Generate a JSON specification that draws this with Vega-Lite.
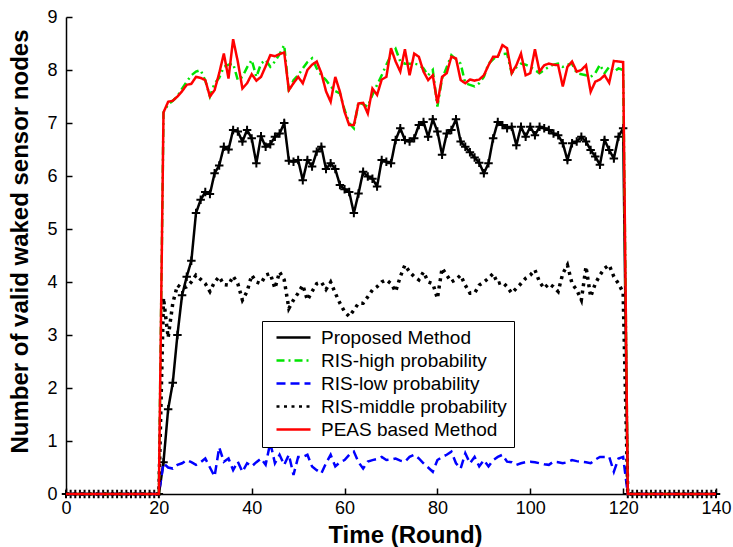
{
"$schema": "https://vega.github.io/schema/vega-lite/v6.json",
"width": 650, "height": 477,
"autosize": {"type": "none"},
"padding": {"left": 66, "top": 17, "right": 17, "bottom": 53},
"background": "white",
"config": {
  "view": {"stroke": null},
  "font": "Liberation Sans",
  "axis": {"grid": false, "domainColor": "black", "domainWidth": 1.5, "tickColor": "black", "tickWidth": 1.5, "tickSize": -6, "labelColor": "black", "labelFontSize": 18, "labelFont": "Liberation Sans", "titleFont": "Liberation Sans", "titleFontWeight": "bold", "titleColor": "black", "labelFlush": false},
  "legend": {"orient": "none", "legendX": 196, "legendY": 304, "strokeColor": "black", "fillColor": "white", "padding": 7, "labelFontSize": 19, "labelFont": "Liberation Sans", "labelColor": "black", "symbolType": "M-3.4,0H3.4", "symbolSize": 100, "symbolStrokeWidth": 2.5, "symbolOffset": 15, "labelOffset": 18, "rowPadding": 3, "labelLimit": 400}
},
"data": {"values": [
{"r":0,"p":0,"h":0,"l":0,"m":0,"e":0},{"r":1,"p":0,"h":0,"l":0,"m":0,"e":0},{"r":2,"p":0,"h":0,"l":0,"m":0,"e":0},{"r":3,"p":0,"h":0,"l":0,"m":0,"e":0},{"r":4,"p":0,"h":0,"l":0,"m":0,"e":0},{"r":5,"p":0,"h":0,"l":0,"m":0,"e":0},{"r":6,"p":0,"h":0,"l":0,"m":0,"e":0},{"r":7,"p":0,"h":0,"l":0,"m":0,"e":0},{"r":8,"p":0,"h":0,"l":0,"m":0,"e":0},{"r":9,"p":0,"h":0,"l":0,"m":0,"e":0},{"r":10,"p":0,"h":0,"l":0,"m":0,"e":0},
{"r":11,"p":0,"h":0,"l":0,"m":0,"e":0},{"r":12,"p":0,"h":0,"l":0,"m":0,"e":0},{"r":13,"p":0,"h":0,"l":0,"m":0,"e":0},{"r":14,"p":0,"h":0,"l":0,"m":0,"e":0},{"r":15,"p":0,"h":0,"l":0,"m":0,"e":0},{"r":16,"p":0,"h":0,"l":0,"m":0,"e":0},{"r":17,"p":0,"h":0,"l":0,"m":0,"e":0},{"r":18,"p":0,"h":0,"l":0,"m":0,"e":0},{"r":19,"p":0,"h":0,"l":0,"m":0,"e":0},{"r":20,"p":0,"h":0,"l":0,"m":0,"e":0},
{"r":21,"p":0.6,"h":7.2,"l":0.58,"m":3.7,"e":7.2},
{"r":22,"p":1.6,"h":7.35,"l":0.5,"m":2.95,"e":7.4},
{"r":23,"p":2.1,"h":7.42,"l":0.48,"m":3.6,"e":7.42},
{"r":24,"p":3.0,"h":7.5,"l":0.55,"m":3.94,"e":7.5},
{"r":25,"p":3.75,"h":7.65,"l":0.58,"m":3.88,"e":7.6},
{"r":26,"p":4.1,"h":7.78,"l":0.64,"m":3.91,"e":7.72},
{"r":27,"p":4.4,"h":7.9,"l":0.6,"m":4.0,"e":7.74},
{"r":28,"p":5.3,"h":7.97,"l":0.55,"m":4.13,"e":7.87},
{"r":29,"p":5.55,"h":8.0,"l":0.6,"m":4.05,"e":7.85},
{"r":30,"p":5.7,"h":7.8,"l":0.67,"m":3.97,"e":7.81},
{"r":31,"p":5.66,"h":7.5,"l":0.5,"m":3.82,"e":7.5},
{"r":32,"p":6.05,"h":7.75,"l":0.33,"m":4.0,"e":7.62},
{"r":33,"p":6.2,"h":7.85,"l":0.88,"m":4.1,"e":7.94},
{"r":34,"p":6.55,"h":8.06,"l":0.61,"m":3.95,"e":8.31},
{"r":35,"p":6.5,"h":8.1,"l":0.67,"m":3.94,"e":7.84},
{"r":36,"p":6.87,"h":8.12,"l":0.45,"m":4.11,"e":8.58},
{"r":37,"p":6.84,"h":7.81,"l":0.61,"m":3.97,"e":8.16},
{"r":38,"p":6.65,"h":7.87,"l":0.42,"m":3.66,"e":7.65},
{"r":39,"p":6.87,"h":8.05,"l":0.58,"m":3.82,"e":7.75},
{"r":40,"p":6.71,"h":8.19,"l":0.52,"m":4.13,"e":7.92},
{"r":41,"p":6.24,"h":7.87,"l":0.6,"m":4.0,"e":7.8},
{"r":42,"p":6.75,"h":8.12,"l":0.67,"m":3.97,"e":7.87},
{"r":43,"p":6.55,"h":8.19,"l":0.55,"m":4.13,"e":8.07},
{"r":44,"p":6.6,"h":8.06,"l":0.97,"m":4.16,"e":8.28},
{"r":45,"p":6.74,"h":8.16,"l":0.58,"m":3.88,"e":8.26},
{"r":46,"p":6.8,"h":8.3,"l":0.74,"m":4.19,"e":8.3},
{"r":47,"p":7.0,"h":8.47,"l":0.55,"m":4.04,"e":8.33},
{"r":48,"p":6.29,"h":7.59,"l":0.74,"m":3.5,"e":7.62},
{"r":49,"p":6.27,"h":7.81,"l":0.36,"m":3.66,"e":7.75},
{"r":50,"p":6.3,"h":7.9,"l":0.7,"m":3.79,"e":7.87},
{"r":51,"p":5.92,"h":8.03,"l":0.7,"m":3.94,"e":7.75},
{"r":52,"p":6.3,"h":8.15,"l":0.74,"m":3.66,"e":8.0},
{"r":53,"p":6.18,"h":8.22,"l":0.52,"m":3.82,"e":8.1},
{"r":54,"p":6.46,"h":8.03,"l":0.45,"m":3.97,"e":8.16},
{"r":55,"p":6.55,"h":7.9,"l":0.39,"m":4.0,"e":7.94},
{"r":56,"p":6.13,"h":7.81,"l":0.58,"m":3.86,"e":7.6},
{"r":57,"p":6.24,"h":7.69,"l":0.74,"m":4.0,"e":7.4},
{"r":58,"p":6.13,"h":7.6,"l":0.52,"m":3.79,"e":7.87},
{"r":59,"p":5.83,"h":7.56,"l":0.6,"m":3.6,"e":7.59},
{"r":60,"p":5.75,"h":7.25,"l":0.64,"m":3.44,"e":7.21},
{"r":61,"p":5.7,"h":7.0,"l":0.74,"m":3.35,"e":6.96},
{"r":62,"p":5.3,"h":6.9,"l":0.8,"m":3.47,"e":6.96},
{"r":63,"p":5.67,"h":7.4,"l":0.6,"m":3.6,"e":7.37},
{"r":64,"p":6.08,"h":7.35,"l":0.48,"m":3.6,"e":7.38},
{"r":65,"p":5.99,"h":7.31,"l":0.61,"m":3.72,"e":7.18},
{"r":66,"p":5.95,"h":7.53,"l":0.64,"m":3.85,"e":7.65},
{"r":67,"p":5.8,"h":7.72,"l":0.66,"m":3.91,"e":7.53},
{"r":68,"p":6.3,"h":7.9,"l":0.7,"m":4.0,"e":7.82},
{"r":69,"p":6.27,"h":8.1,"l":0.64,"m":4.04,"e":7.87},
{"r":70,"p":6.24,"h":8.28,"l":0.65,"m":3.97,"e":8.41},
{"r":71,"p":6.68,"h":8.4,"l":0.67,"m":3.82,"e":8.16},
{"r":72,"p":6.9,"h":8.16,"l":0.63,"m":4.1,"e":7.97},
{"r":73,"p":6.68,"h":8.12,"l":0.61,"m":4.32,"e":8.39},
{"r":74,"p":6.65,"h":8.12,"l":0.7,"m":4.19,"e":7.9},
{"r":75,"p":6.71,"h":8.12,"l":0.74,"m":4.1,"e":8.31},
{"r":76,"p":6.96,"h":8.1,"l":0.67,"m":4.04,"e":8.25},
{"r":77,"p":7.02,"h":8.03,"l":0.58,"m":4.19,"e":7.97},
{"r":78,"p":6.74,"h":7.9,"l":0.5,"m":4.0,"e":7.81},
{"r":79,"p":7.07,"h":8.0,"l":0.42,"m":3.97,"e":7.9},
{"r":80,"p":6.84,"h":7.31,"l":0.64,"m":3.69,"e":7.37},
{"r":81,"p":6.4,"h":7.84,"l":0.7,"m":4.26,"e":7.87},
{"r":82,"p":6.8,"h":8.05,"l":0.74,"m":4.13,"e":7.94},
{"r":83,"p":6.87,"h":8.28,"l":0.8,"m":4.0,"e":8.25},
{"r":84,"p":7.07,"h":8.2,"l":0.58,"m":4.05,"e":8.22},
{"r":85,"p":6.65,"h":8.12,"l":0.48,"m":4.13,"e":7.81},
{"r":86,"p":6.55,"h":7.75,"l":0.77,"m":3.94,"e":7.75},
{"r":87,"p":6.45,"h":7.72,"l":0.58,"m":3.79,"e":7.82},
{"r":88,"p":6.35,"h":7.69,"l":0.7,"m":3.79,"e":7.8},
{"r":89,"p":6.25,"h":7.75,"l":0.52,"m":3.94,"e":7.82},
{"r":90,"p":6.05,"h":7.87,"l":0.64,"m":4.0,"e":7.9},
{"r":91,"p":6.24,"h":8.12,"l":0.52,"m":4.07,"e":8.09},
{"r":92,"p":6.71,"h":8.2,"l":0.64,"m":4.16,"e":8.25},
{"r":93,"p":7.02,"h":8.28,"l":0.7,"m":3.97,"e":8.25},
{"r":94,"p":6.96,"h":8.3,"l":0.74,"m":4.0,"e":8.47},
{"r":95,"p":6.9,"h":8.31,"l":0.61,"m":3.91,"e":8.41},
{"r":96,"p":6.93,"h":7.94,"l":0.6,"m":3.79,"e":7.94},
{"r":97,"p":6.58,"h":8.05,"l":0.55,"m":3.88,"e":8.09},
{"r":98,"p":6.93,"h":8.12,"l":0.58,"m":3.97,"e":8.31},
{"r":99,"p":6.74,"h":8.1,"l":0.6,"m":4.07,"e":7.9},
{"r":100,"p":6.93,"h":8.06,"l":0.61,"m":4.13,"e":7.94},
{"r":101,"p":6.77,"h":8.0,"l":0.6,"m":4.23,"e":8.39},
{"r":102,"p":6.93,"h":7.94,"l":0.58,"m":4.0,"e":7.97},
{"r":103,"p":6.9,"h":8.0,"l":0.56,"m":3.88,"e":8.09},
{"r":104,"p":6.87,"h":8.06,"l":0.55,"m":3.97,"e":8.12},
{"r":105,"p":6.8,"h":8.1,"l":0.61,"m":3.91,"e":8.1},
{"r":106,"p":6.77,"h":8.12,"l":0.6,"m":3.82,"e":8.09},
{"r":107,"p":6.62,"h":8.06,"l":0.58,"m":4.16,"e":7.69},
{"r":108,"p":6.3,"h":8.1,"l":0.6,"m":4.32,"e":8.06},
{"r":109,"p":6.62,"h":8.12,"l":0.64,"m":3.97,"e":8.16},
{"r":110,"p":6.65,"h":7.94,"l":0.62,"m":3.85,"e":7.97},
{"r":111,"p":6.74,"h":7.92,"l":0.61,"m":3.66,"e":8.0},
{"r":112,"p":6.65,"h":7.9,"l":0.6,"m":4.29,"e":8.09},
{"r":113,"p":6.49,"h":7.87,"l":0.58,"m":3.72,"e":7.59},
{"r":114,"p":6.37,"h":7.94,"l":0.65,"m":3.97,"e":7.78},
{"r":115,"p":6.21,"h":8.1,"l":0.7,"m":4.13,"e":7.82},
{"r":116,"p":6.68,"h":7.94,"l":0.7,"m":4.26,"e":7.9},
{"r":117,"p":6.49,"h":8.06,"l":0.7,"m":4.32,"e":7.76},
{"r":118,"p":6.33,"h":7.97,"l":0.42,"m":4.1,"e":8.17},
{"r":119,"p":6.74,"h":8.03,"l":0.67,"m":3.97,"e":8.16},
{"r":120,"p":6.9,"h":8.0,"l":0.7,"m":3.8,"e":8.15},
{"r":121,"p":0,"h":0,"l":0,"m":0,"e":0},{"r":122,"p":0,"h":0,"l":0,"m":0,"e":0},{"r":123,"p":0,"h":0,"l":0,"m":0,"e":0},{"r":124,"p":0,"h":0,"l":0,"m":0,"e":0},{"r":125,"p":0,"h":0,"l":0,"m":0,"e":0},{"r":126,"p":0,"h":0,"l":0,"m":0,"e":0},{"r":127,"p":0,"h":0,"l":0,"m":0,"e":0},{"r":128,"p":0,"h":0,"l":0,"m":0,"e":0},{"r":129,"p":0,"h":0,"l":0,"m":0,"e":0},{"r":130,"p":0,"h":0,"l":0,"m":0,"e":0},
{"r":131,"p":0,"h":0,"l":0,"m":0,"e":0},{"r":132,"p":0,"h":0,"l":0,"m":0,"e":0},{"r":133,"p":0,"h":0,"l":0,"m":0,"e":0},{"r":134,"p":0,"h":0,"l":0,"m":0,"e":0},{"r":135,"p":0,"h":0,"l":0,"m":0,"e":0},{"r":136,"p":0,"h":0,"l":0,"m":0,"e":0},{"r":137,"p":0,"h":0,"l":0,"m":0,"e":0},{"r":138,"p":0,"h":0,"l":0,"m":0,"e":0},{"r":139,"p":0,"h":0,"l":0,"m":0,"e":0},{"r":140,"p":0,"h":0,"l":0,"m":0,"e":0}
]},
"transform": [{"fold": ["p","h","l","m","e"], "as": ["s","v"]}],
"encoding": {
  "x": {"field": "r", "type": "quantitative", "scale": {"domain": [0,140], "nice": false, "zero": false},
        "axis": {"values": [0,20,40,60,80,100,120,140], "title": "Time (Round)", "titleFontSize": 24, "titleX": 339, "titleY": 41, "titleBaseline": "middle", "titleAlign": "center", "labelPadding": 11, "labelFlush": false}},
  "y": {"field": "v", "type": "quantitative", "scale": {"domain": [0,9], "nice": false},
        "axis": {"values": [0,1,2,3,4,5,6,7,8,9], "title": "Number of valid waked sensor nodes", "titleFontSize": 24, "titleX": -46, "titleY": 224, "titleAngle": -90, "titleAlign": "center", "titleBaseline": "middle", "labelPadding": 15, "labelFlush": false}},
  "color": {"field": "s", "type": "nominal",
            "scale": {"domain": ["p","h","l","m","e"], "range": ["#000000","#00e400","#0000ff","#000000","#ff0000"]},
            "legend": {"title": null, "labelExpr": "{'p':'Proposed Method','h':'RIS-high probability','l':'RIS-low probability','m':'RIS-middle probability','e':'PEAS based Method'}[datum.label]"}},
  "strokeDash": {"field": "s", "type": "nominal",
            "scale": {"domain": ["p","h","l","m","e"], "range": [[1,0],[8,4,2,4],[9,5],[3,4.5],[1,0]]},
            "legend": {"title": null, "labelExpr": "{'p':'Proposed Method','h':'RIS-high probability','l':'RIS-low probability','m':'RIS-middle probability','e':'PEAS based Method'}[datum.label]"}}
},
"layer": [
  {"transform": [{"filter": "datum.s === 'p'"}], "mark": {"type": "line", "strokeWidth": 2.5}},
  {"transform": [{"filter": "datum.s === 'p'"}], "mark": {"type": "point", "shape": "M-1,0H1M0,-1V1", "filled": false, "size": 72, "strokeWidth": 2, "opacity": 1},
   "encoding": {"color": {"value": "#000000"}, "strokeDash": {"value": [1,0]}}},
  {"transform": [{"filter": "datum.s === 'h'"}], "mark": {"type": "line", "strokeWidth": 2.5}},
  {"transform": [{"filter": "datum.s === 'l'"}], "mark": {"type": "line", "strokeWidth": 2.5}},
  {"transform": [{"filter": "datum.s === 'm'"}], "mark": {"type": "line", "strokeWidth": 3.5}},
  {"transform": [{"filter": "datum.s === 'e'"}], "mark": {"type": "line", "strokeWidth": 2.5}}
]
}
